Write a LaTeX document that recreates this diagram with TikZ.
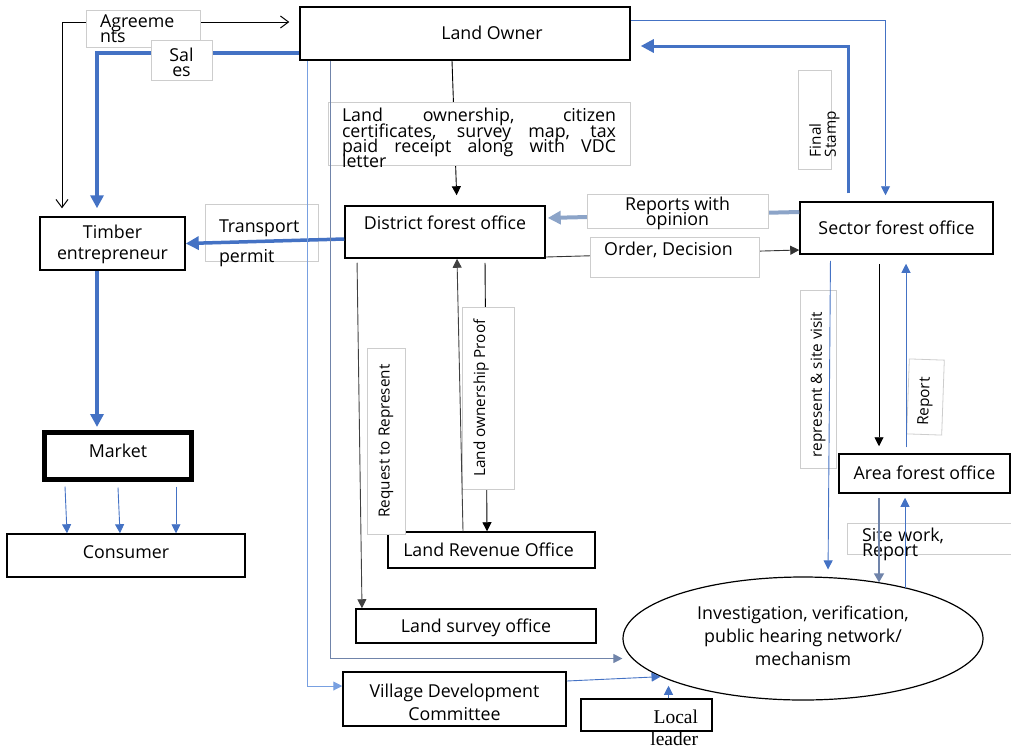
\documentclass[tikz,border=0pt]{standalone}
\usepackage{fontspec}
\setmainfont{Open Sans}
\newfontfamily\locfont{Liberation Serif}
\usetikzlibrary{arrows.meta,shapes.geometric}
\definecolor{bl}{RGB}{68,114,196}
\definecolor{sl}{RGB}{112,132,170}
\definecolor{st}{RGB}{140,164,200}
\definecolor{lbl}{RGB}{120,160,225}
\definecolor{lg}{RGB}{205,205,205}
\newcommand\fsz[2]{\fontsize{#1}{#2}\selectfont\lineskiplimit=-40pt\lineskip=0pt}
\newcommand\mainfs{\fsz{17.8}{23}}
\newcommand\labfs{\fsz{17.8}{15}}
\newcommand\rotfs{\fsz{15.3}{15}}
\begin{document}
\begin{tikzpicture}[x=1pt,y=-1pt,
  box/.style={draw=black,line width=1.5pt,fill=white,inner sep=0pt,font=\mainfs,align=center},
  lab/.style={draw=lg,line width=0.8pt,fill=white,inner sep=0pt,font=\mainfs},
  rlab/.style={draw=lg,line width=0.8pt,fill=white,inner sep=0pt,font=\rotfs,rotate=90,align=center},
  thinblk/.style={draw=black,line width=0.9pt,-{Triangle[length=9pt,width=9pt]}},
  thinblu/.style={draw=bl,line width=0.9pt,-{Triangle[length=9pt,width=9pt]}},
  thickblu/.style={draw=bl,line width=3.5pt,-{Triangle[length=13pt,width=13pt]}},
  barb/.style={draw=black,line width=1pt,{Straight Barb[length=8pt,width=12pt]}-{Straight Barb[length=8pt,width=12pt]}}
]
\useasboundingbox (0,0) rectangle (1011,750);

% ---------- main boxes ----------
\node[box,minimum width=330pt,minimum height=53pt,text height=12pt,text depth=0pt] (owner) at (465,33.5) {\hspace*{54pt}Land Owner};
\node[box,minimum width=145pt,minimum height=53pt,text height=33pt,text depth=2pt,font=\fsz{17.8}{21}] (timber) at (112.5,243.5) {Timber\\entrepreneur};
\node[box,minimum width=200pt,minimum height=52pt,text height=12pt,text depth=18pt] (district) at (445,232) {District forest office};
\node[box,minimum width=193pt,minimum height=52pt,text height=12pt,text depth=0pt] (sector) at (896.5,228) {Sector forest office};
\node[box,minimum width=171pt,minimum height=39pt,text height=12pt,text depth=0pt] (area) at (924.5,473.5) {Area forest office};
\node[box,line width=5pt,minimum width=147pt,minimum height=47pt,text height=12pt,text depth=8pt] (market) at (118,455.5) {Market};
\node[box,minimum width=238pt,minimum height=43pt,text height=12pt,text depth=7pt] (consumer) at (126,555.5) {Consumer};
\node[box,minimum width=207pt,minimum height=36pt,text height=12pt,text depth=0pt] (revenue) at (491.5,550) {Land Revenue Office\hspace*{6pt}};
\node[box,minimum width=240pt,minimum height=34pt,text height=12pt,text depth=0pt] (survey) at (476,626) {Land survey office};
\node[box,minimum width=223pt,minimum height=54pt,text height=46pt,text depth=4pt] (vdc) at (454.5,699) {Village Development\\Committee};
\node[box,minimum width=131pt,minimum height=32pt,text width=103pt,inner xsep=14pt,align=right,text height=16pt,text depth=0pt,font=\locfont\fsz{19.5}{22}] (local) at (646.5,715) {Local\\leader};
\node[box,ellipse,line width=1.2pt,minimum width=360pt,minimum height=123pt,text height=57pt,text depth=4pt,font=\fsz{17.8}{23}] (ell) at (803,638.5) {Investigation, verification,\\public hearing network/\\mechanism};

% ---------- connectors hidden under labels ----------
\draw[barb,shorten <=8pt,shorten >=10pt] ([xshift=-50.5pt]timber.north) |- ([yshift=11.5pt]owner.west);
\draw[thickblu,shorten >=8pt] ([yshift=-19.5pt]owner.west) -| ([xshift=-15.5pt]timber.north);
\draw[thinblk,shorten >=10pt] ([xshift=-13pt]owner.south) -- ([xshift=12pt]district.north);
\draw[draw=st,line width=4pt,-{Triangle[length=13pt,width=13pt]},shorten >=2pt] ([yshift=16pt]sector.west) -- ([yshift=14pt]district.east);
\draw[thinblk,draw=black!80] ([yshift=-25pt]district.east) -- ([yshift=-22pt]sector.west);
\draw[thinblk,shorten <=4pt] ([xshift=40pt]district.south) -- ([xshift=-4.5pt]revenue.north);

% ---------- labels ----------
\node[lab,minimum width=114pt,minimum height=37pt,text width=86pt,inner xsep=14pt,align=left,text height=12pt,text depth=14pt,font=\labfs] (agr) at (143,28.5) {Agreeme\\nts};
\node[lab,minimum width=61pt,minimum height=40pt,align=center,text height=35pt,text depth=2pt,font=\labfs] (sal) at (181.5,60) {Sal\\es};
\node[lab,minimum width=113pt,minimum height=57pt,text width=85pt,inner xsep=14pt,align=left,text height=12pt,text depth=12pt,font=\fsz{17.8}{30}] (trans) at (261.5,232.5) {Transport\\permit};
\node[lab,minimum width=302pt,minimum height=63pt,text width=274pt,inner xsep=14pt,align=justify,text height=12pt,text depth=35.6pt,font=\fsz{17.8}{15.3}] (docs) at (479,133.5) {Land ownership, citizen\linebreak certificates, survey map, tax\linebreak paid receipt along with VDC\linebreak letter};
\node[lab,minimum width=181pt,minimum height=34pt,align=center,text height=30pt,text depth=2pt,font=\fsz{17.8}{14.5}] (rep) at (677.5,211) {Reports with\\opinion};
\node[lab,minimum width=169pt,minimum height=40pt,text height=12pt,text depth=16pt] (ord) at (674.5,257) {Order, Decision\hspace*{12pt}};
\node[rlab,minimum width=99pt,minimum height=33pt,text width=75pt,inner xsep=12pt,align=left,text height=12.5pt,text depth=0pt] (fs) at (814.5,119.5) {Final\\Stamp};
\node[rlab,minimum width=186pt,minimum height=38pt] (req) at (386,441) {Request to Represent};
\node[rlab,minimum width=182pt,minimum height=52pt,text height=12pt,text depth=18pt] (lop) at (488,398) {Land ownership Proof};
\node[rlab,minimum width=178pt,minimum height=36pt] (rsv) at (818,379) {represent \& site visit\hspace*{11pt}};
\node[rlab,rotate=-2,minimum width=75pt,minimum height=35pt] (rpt) at (925.5,397) {Report\hspace*{9pt}};
\node[lab,minimum width=164pt,minimum height=31pt,text width=134pt,inner xsep=15pt,align=left,text height=12pt,text depth=5.6pt,font=\fsz{17.8}{14.5}] (site) at (929,538.5) {Site work,\\Report};

% ---------- connectors on top ----------
\draw[thickblu] ([yshift=-7pt]district.west) -- (timber.east);
\draw[thickblu,line width=3pt,shorten <=8pt,shorten >=10pt] ([xshift=-48.5pt]sector.north) |- ([yshift=-12.5pt]owner.east);
\draw[thinblu,shorten >=6pt] ([yshift=13.5pt]owner.east) -| ([xshift=-11pt]sector.north);
\draw[thinblu,shorten <=6pt,shorten >=7pt] ([xshift=-66pt]sector.south) -- ([xshift=25pt]ell.north);
\draw[thinblk,shorten <=9pt,shorten >=7pt] ([xshift=-17.5pt]sector.south) -- ([xshift=-45.5pt]area.north);
\draw[thinblu,shorten <=6pt,shorten >=9pt] ([xshift=-18.5pt]area.north) -- ([xshift=9.5pt]sector.south);
\draw[draw=sl,line width=1.5pt,-{Triangle[length=9pt,width=10pt]},shorten <=4pt] ([xshift=-45.5pt]area.south) -- ([xshift=-45.5pt]area.south |- ell.36);
\draw[thinblu,shorten >=4pt] ([xshift=-19.5pt]area.south |- ell.26) -- ([xshift=-19.5pt]area.south);
\draw[thickblu,shorten >=2.5pt] ([xshift=-15.5pt]timber.south) -- ([xshift=-21pt]market.north);
\draw[thinblu] ([xshift=-53pt,yshift=-5pt]market.south) -- ([xshift=-59pt]consumer.north);
\draw[thinblu] ([yshift=-6pt]market.south) -- ([xshift=-6pt]consumer.north);
\draw[thinblu] ([xshift=58pt,yshift=-5pt]market.south) -- ([xshift=50pt]consumer.north);
\draw[thinblk,draw=black!75,shorten <=4pt] ([xshift=-88pt]district.south) -- ([xshift=-114pt]survey.north);
\draw[thinblk,draw=black!75] ([xshift=-28.5pt]revenue.north) -- ([xshift=12pt]district.south);
\draw[draw=sl,line width=1pt,-{Triangle[length=9pt,width=9pt]}] ([xshift=-135pt]owner.south) |- ([yshift=-20pt]ell.west);
\draw[draw=lbl,line width=1pt,-{Triangle[length=9pt,width=9pt]}] ([xshift=-158pt]owner.south) |- ([yshift=13pt]vdc.west);
\draw[thinblu] ([yshift=18pt]vdc.east) -- (ell.195);
\draw[thinblu,shorten >=6pt] ([xshift=22pt]local.north) -- ([xshift=22pt]local.north |- ell.197);
\end{tikzpicture}
\end{document}
